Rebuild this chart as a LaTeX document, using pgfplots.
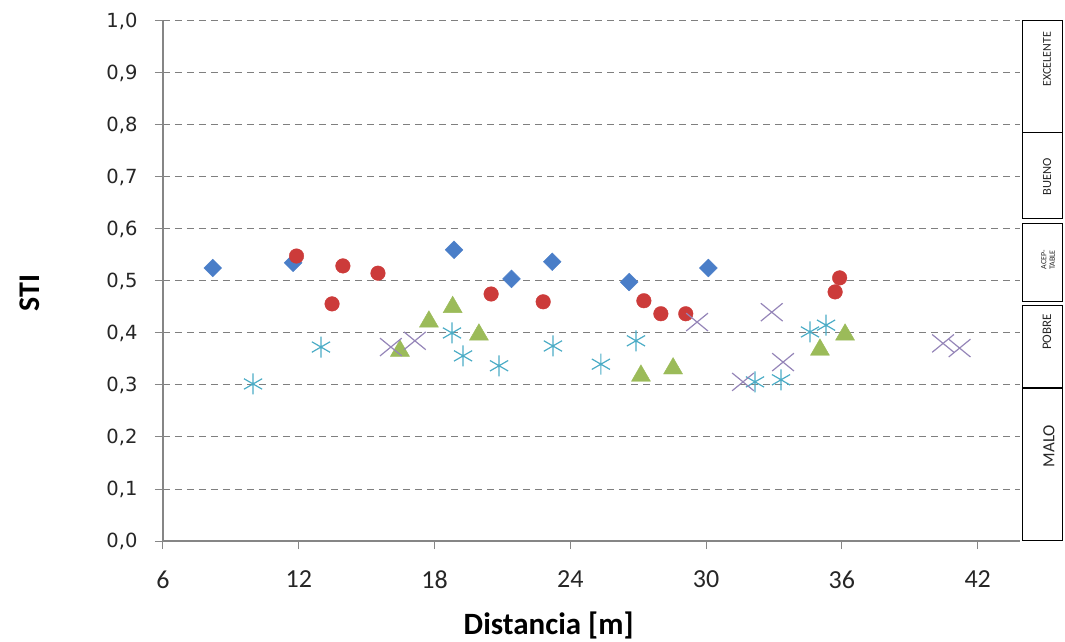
\documentclass[border=0pt]{standalone}
\usepackage{fontspec}
\setmainfont{Carlito}
\newfontfamily\dejavu{DejaVu Sans}
\usepackage{pgfplots}
\pgfplotsset{compat=1.18}
\definecolor{cblue}{HTML}{4A7EC8}
\definecolor{cred}{HTML}{CC3B3A}
\definecolor{cgreen}{HTML}{9BBB59}
\definecolor{ccyan}{HTML}{4BACC6}
\definecolor{cpurple}{HTML}{9585B8}
\definecolor{axisgray}{HTML}{868686}
\definecolor{gridgray}{HTML}{7F7F7F}
\begin{document}
\begin{tikzpicture}
\useasboundingbox (-163pt,-101pt) rectangle (902pt,541pt);
\begin{axis}[
  at={(0pt,0pt)}, anchor=south west,
  scale only axis, width=857pt, height=520pt,
  xmin=6, xmax=43.87, ymin=0, ymax=1,
  axis x line=bottom, axis y line=left,
  axis line style={-, draw=axisgray, line width=1.2pt},
  xtick={6,12,18,24,30,36,42},
  ytick={0,0.1,0.2,0.3,0.4,0.5,0.6,0.7,0.8,0.9,1.0},
  tick align=outside, major tick length=8pt,
  tick style={draw=axisgray, line width=1pt},
  ymajorgrids, grid style={dash pattern=on 7pt off 5pt, draw=gridgray, line width=1pt},
  /pgf/number format/assume math mode=true,
  yticklabel style={font=\dejavu\fontsize{19.5}{19.5}\selectfont, text=black!85, xshift=-14pt,
    /pgf/number format/.cd, use comma, fixed, fixed zerofill, precision=1},
  xticklabel style={font=\fontsize{26}{26}\selectfont, yshift=-18pt, text=black!85},
  xlabel={Distancia [m]},
  xlabel style={font=\bfseries\fontsize{31}{31}\selectfont, at={(axis description cs:0.45,-0.1615)}, anchor=center},
  ylabel={STI},
  ylabel style={font=\bfseries\fontsize{30}{30}\selectfont, at={(axis description cs:-0.155,0.477)}, anchor=center},
  clip=false,
]
% blue diamonds
\addplot[only marks, mark=square*, mark size=6.3pt, mark options={rotate=45, fill=cblue, draw=cblue}] table {
x y
8.2 0.525
11.75 0.535
18.86 0.560
21.4 0.504
23.2 0.537
26.6 0.498
30.1 0.525
};
% red circles
\addplot[only marks, mark=*, mark size=7.3pt, mark options={fill=cred, draw=cred}] table {
x y
11.9 0.548
13.47 0.456
13.95 0.529
15.5 0.515
20.5 0.475
22.8 0.460
27.25 0.462
28.0 0.437
29.1 0.437
35.9 0.506
35.7 0.479
};
% green triangles
\addplot[only marks, mark=triangle*, mark size=11pt, mark options={fill=cgreen, draw=cgreen, yshift=-2.75pt}] table {
x y
16.47 0.371
17.75 0.427
18.8 0.455
19.96 0.402
27.12 0.323
28.54 0.337
35.03 0.373
36.14 0.402
};
% cyan asterisks
\addplot[only marks, mark=asterisk, mark size=10.5pt, mark options={draw=ccyan, line width=1.2pt}] table {
x y
9.98 0.302
12.98 0.373
18.77 0.400
19.26 0.356
20.85 0.337
23.23 0.375
25.35 0.340
26.9 0.385
32.16 0.306
33.31 0.310
34.59 0.402
35.3 0.415
};
% purple crosses
\addplot[only marks, mark=x, mark size=14pt, mark options={draw=cpurple, line width=1.2pt, xscale=1.1, yscale=0.9}] table {
x y
16.07 0.373
17.13 0.385
29.6 0.421
31.63 0.306
32.9 0.440
33.4 0.344
40.47 0.380
41.2 0.371
};
\end{axis}
% rating bands
\begin{scope}[line width=1pt, draw=black]
\draw (859pt,520pt) rectangle (899pt,408pt);
\draw (859pt,408pt) rectangle (899pt,322pt);
\draw (859pt,317pt) rectangle (899pt,239pt);
\draw (859pt,235pt) rectangle (899pt,153pt);
\draw (859pt,153pt) rectangle (899pt,0pt);
\draw[line width=2pt] (859pt,153pt) -- (899pt,153pt);
\end{scope}
\begin{scope}[every node/.style={rotate=90, text=black!85, inner sep=0pt}]
\node[font=\fontsize{12}{12}\selectfont] at (884pt,482pt) {EXCELENTE};
\node[font=\fontsize{12.5}{12.5}\selectfont] at (884pt,364pt) {BUENO};
\node[font=\fontsize{8}{8.5}\selectfont, align=center] at (885pt,281pt) {ACEP-\\TABLE};
\node[font=\fontsize{13}{13}\selectfont] at (884pt,209pt) {POBRE};
\node[font=\fontsize{17}{17}\selectfont] at (886pt,95pt) {MALO};
\end{scope}
\end{tikzpicture}
\end{document}
